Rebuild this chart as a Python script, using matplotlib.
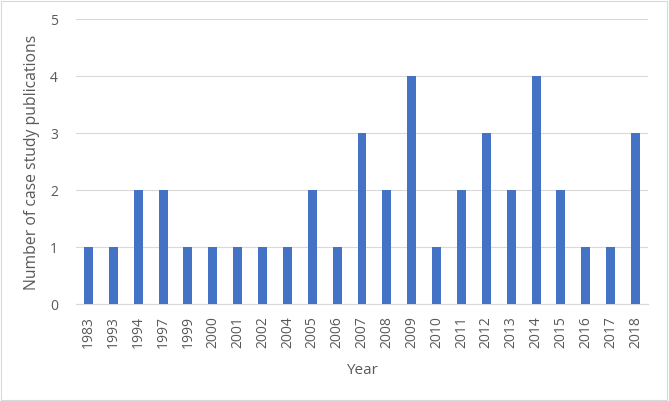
import matplotlib
matplotlib.use("Agg")
import matplotlib.pyplot as plt
from matplotlib.patches import Rectangle

years = ["1983","1993","1994","1997","1999","2000","2001","2002","2004","2005","2006",
         "2007","2008","2009","2010","2011","2012","2013","2014","2015","2016","2017","2018"]
counts = [1,1,2,2,1,1,1,1,1,2,1,3,2,4,1,2,3,2,4,2,1,1,3]

plt.rcParams['font.family'] = ['Open Sans', 'DejaVu Sans']

fig = plt.figure(figsize=(6.69, 4.02), dpi=100)
ax = fig.add_axes([0.1136, 0.2413, 0.855, 0.709])
x = list(range(len(years)))
ax.bar(x, counts, width=0.36, color='#4472C4', zorder=3)
ax.set_xlim(-0.5, len(years) - 0.5)
ax.set_ylim(0, 5)
ax.set_yticks(range(6))
ax.set_xticks(x)
ax.set_xticklabels(years, rotation=90, fontsize=10, color='#595959')
ax.tick_params(axis='y', labelsize=10, colors='#595959', length=0, pad=13)
ax.tick_params(axis='x', length=0, pad=8)
ax.grid(axis='y', color='#D9D9D9', linewidth=0.8, zorder=0)
for s in ['top', 'right', 'left']:
    ax.spines[s].set_visible(False)
ax.spines['bottom'].set_color('#D9D9D9')
ax.set_xlabel('Year', fontsize=11, color='#595959', labelpad=11)
ax.set_ylabel('Number of case study publications', fontsize=11.3, color='#595959', labelpad=7)

fig.patches.append(Rectangle((0.002, 0.003), 0.995, 0.993, transform=fig.transFigure,
                             fill=False, edgecolor='#D9D9D9', linewidth=0.8))
fig.savefig('out.png', dpi=100)
